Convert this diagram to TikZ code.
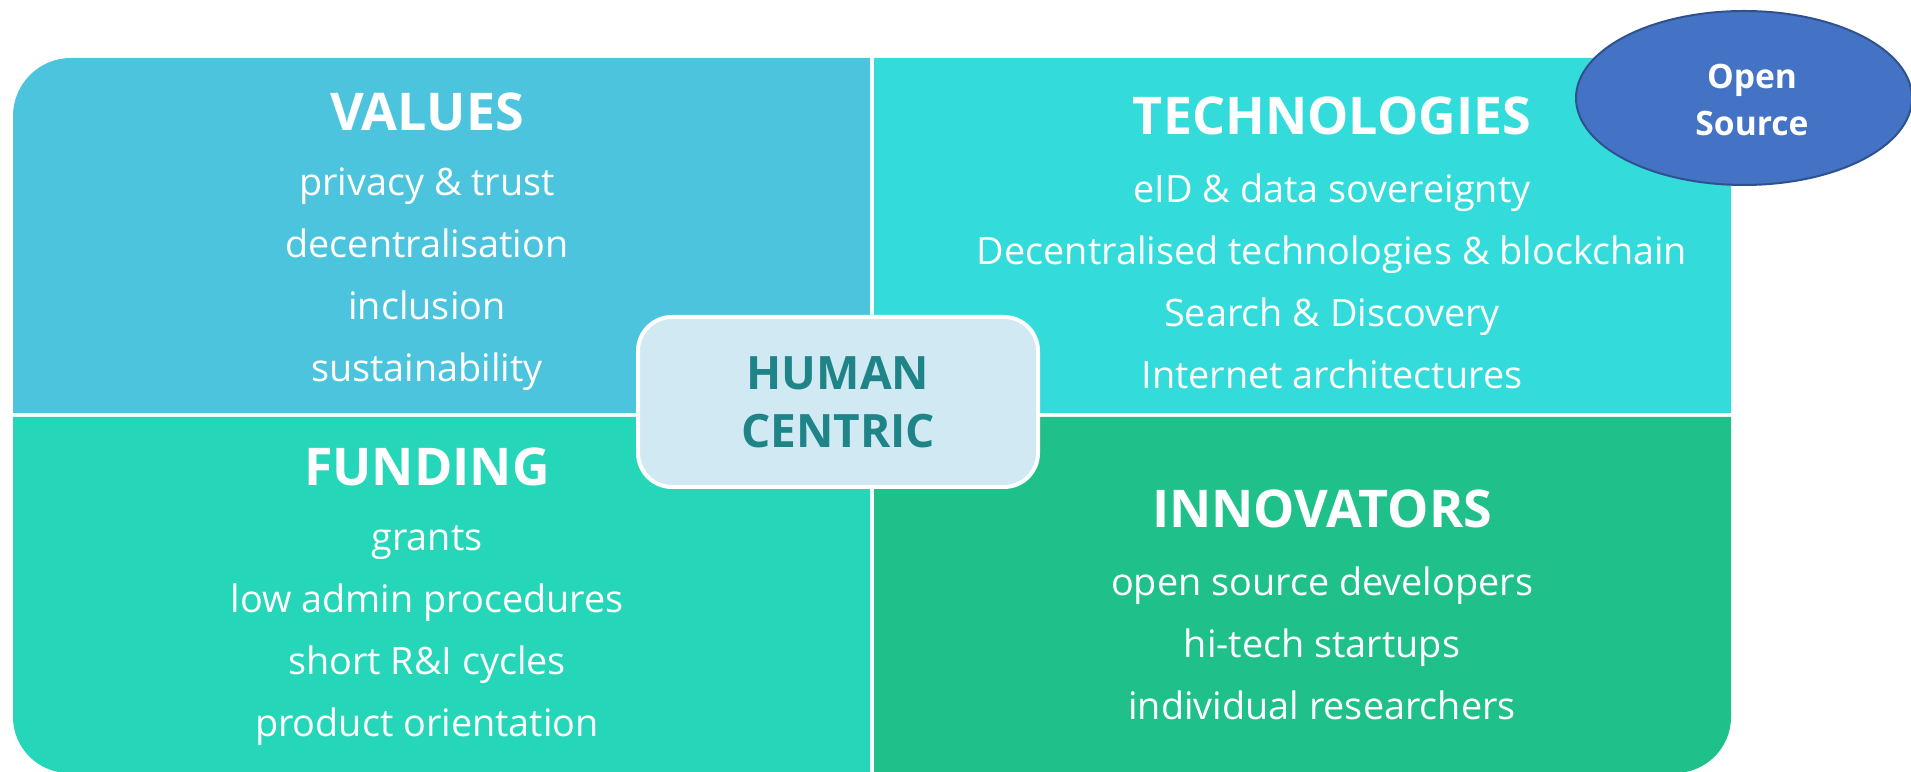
\documentclass[tikz,border=0pt]{standalone}
\usepackage{fontspec}
\setmainfont{Open Sans}
\usetikzlibrary{shapes.geometric}
\definecolor{cVal}{HTML}{4CC4DD}
\definecolor{cTech}{HTML}{33DBDB}
\definecolor{cFund}{HTML}{26D6B8}
\definecolor{cInno}{HTML}{1FC08A}
\definecolor{cHumFill}{HTML}{D0E9F3}
\definecolor{cHumText}{HTML}{1E8488}
\definecolor{cOSFill}{HTML}{4472C4}
\definecolor{cOSLine}{HTML}{2F528F}
\tikzset{
  title/.style={text=white, font=\fontsize{26}{30}\selectfont\bfseries, inner sep=0pt},
  body/.style={text=white, font=\fontsize{18.9}{31}\selectfont, align=center, inner sep=0pt},
}
\begin{document}
\begin{tikzpicture}[x=0.5pt,y=0.5pt]
\useasboundingbox (0,0) rectangle (1911,771);
% quadrants
\fill[cVal] (13,358) -- (13,713-58) arc[start angle=180,end angle=90,radius=29pt] -- (870,713) -- (870,358) -- cycle;
\fill[cTech] (874,358) -- (874,713) -- (1731-58,713) arc[start angle=90,end angle=0,radius=29pt] -- (1731,358) -- cycle;
\fill[cFund] (13,354) -- (870,354) -- (870,-2) -- (13+56,-2) arc[start angle=270,end angle=180,radius=28pt] -- cycle;
\fill[cInno] (874,354) -- (1731,354) -- (1731,-2+56) arc[start angle=0,end angle=-90,radius=28pt] -- (874,-2) -- cycle;
% texts
\node[title] (valT) at (427,659) {VALUES};
\node[body] (valB) at (427,491.5) {privacy \& trust\\decentralisation\\inclusion\\sustainability};
\node[title] (techT) at (1332,655) {TECHNOLOGIES};
\node[body] (techB) at (1332,490) {eID \& data sovereignty\\Decentralised technologies \& blockchain\\Search \& Discovery\\Internet architectures};
\node[title] (fundT) at (427,304) {FUNDING};
\node[body] (fundB) at (427,135.5) {grants\\low admin procedures\\short R\&I cycles\\product orientation};
\node[title] (innoT) at (1322,262) {INNOVATORS};
\node[body] (innoB) at (1322,128) {open source developers\\hi-tech startups\\individual researchers};
% center
\node[draw=white, line width=2pt, fill=cHumFill, rounded corners=17pt, minimum width=200pt, minimum height=85pt, inner sep=0pt,
  text=cHumText, font=\fontsize{23}{29}\selectfont\bfseries, align=center] (human) at (838,369) {HUMAN\\CENTRIC};
% open source
\node[ellipse, draw=cOSLine, line width=1pt, fill=cOSFill, minimum width=168pt, minimum height=87pt, inner sep=0pt] (os) at (1744,673) {};
\node[text=white, font=\fontsize{16.8}{23.5}\selectfont\bfseries, align=center, inner sep=0pt] (ost) at (1752,671) {Open\\Source};
\end{tikzpicture}
\end{document}
